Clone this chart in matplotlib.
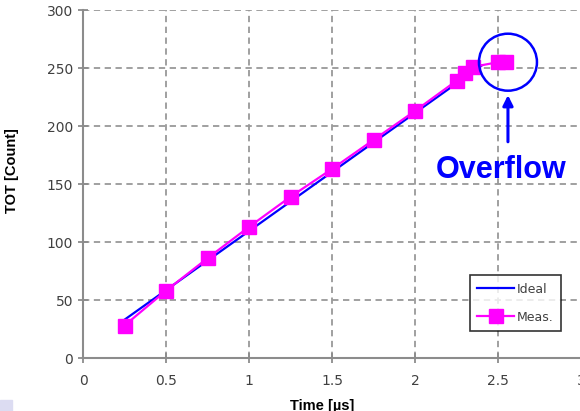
import matplotlib
matplotlib.use("Agg")
import matplotlib.pyplot as plt
from matplotlib.patches import Ellipse, Rectangle

# Data
ideal_x = [0.25, 2.4]
ideal_y = [33, 252]
meas_x = [0.25, 0.5, 0.75, 1.0, 1.25, 1.5, 1.75, 2.0, 2.25, 2.3, 2.35, 2.5, 2.55]
meas_y = [28, 58, 86, 113, 139, 163, 188, 213, 239, 246, 251, 255, 255]
xticks = [0, 0.5, 1, 1.5, 2, 2.5, 3]
xtick_labels = ["0", "0.5", "1", "1.5", "2", "2.5", "3"]
yticks = [0, 50, 100, 150, 200, 250, 300]

fig = plt.figure(figsize=(5.8, 4.11), dpi=100)
ax = fig.add_axes([83/580, 1-358/411, 498/580, 348/411])

ax.plot(ideal_x, ideal_y, color="#0000ff", lw=1.6, label="Ideal", zorder=3)
ax.plot(meas_x, meas_y, color="#ff00ff", lw=1.6, marker="s", ms=9.5,
        label="Meas.", zorder=4)

ax.set_xlim(0, 3)
ax.set_ylim(0, 300)
ax.set_xticks(xticks)
ax.set_xticklabels(xtick_labels)
ax.set_yticks(yticks)
ax.grid(True, color="#999999", ls=(0, (3.5, 2.5)), lw=1.3)
ax.set_axisbelow(True)
for s in ["top", "right"]:
    ax.spines[s].set_visible(False)
for s in ["left", "bottom"]:
    ax.spines[s].set_color("#8c8c8c")
    ax.spines[s].set_linewidth(1.5)
ax.tick_params(direction="inout", length=7, width=1.3, color="#8c8c8c",
               labelcolor="#404040", labelsize=10)
ax.tick_params(axis="x", pad=8)

ax.set_ylabel("TOT [Count]", fontsize=10.5, fontweight="bold",
              family="Liberation Sans")
ax.yaxis.set_label_coords(-0.128, 0.54)
ax.set_xlabel("Time [\u00b5s]", fontsize=10.5, fontweight="bold",
              family="Liberation Sans")
ax.xaxis.set_label_coords(0.48, -0.118)

leg = ax.legend(loc="lower right", bbox_to_anchor=(0.965, 0.07),
                fontsize=9, frameon=True, fancybox=False,
                edgecolor="black", handlelength=2.9, borderpad=0.6,
                labelspacing=1.2, handletextpad=0.25, borderaxespad=0.2)
leg.get_frame().set_linewidth(1.2)
for t in leg.get_texts():
    t.set_color("#404040")

# Overflow annotation
circ = Ellipse((2.56, 255), width=58/166, height=57/1.16, fill=False,
               edgecolor="#0000ff", lw=1.8, zorder=5)
ax.add_patch(circ)
ax.annotate("", xy=(2.56, 229), xytext=(2.56, 184),
            arrowprops=dict(arrowstyle="-|>", color="#0000ff", lw=2.2,
                            mutation_scale=15))
ax.text(2.52, 162, "Overflow", color="#0000ff", fontsize=22,
        fontweight="bold", family="Liberation Sans", ha="center", va="center")

fig.patches.append(Rectangle((0, 0), 12/580, 11/411, transform=fig.transFigure,
                             color="#dcdcf2", zorder=0))

fig.savefig("out.png", dpi=100)
